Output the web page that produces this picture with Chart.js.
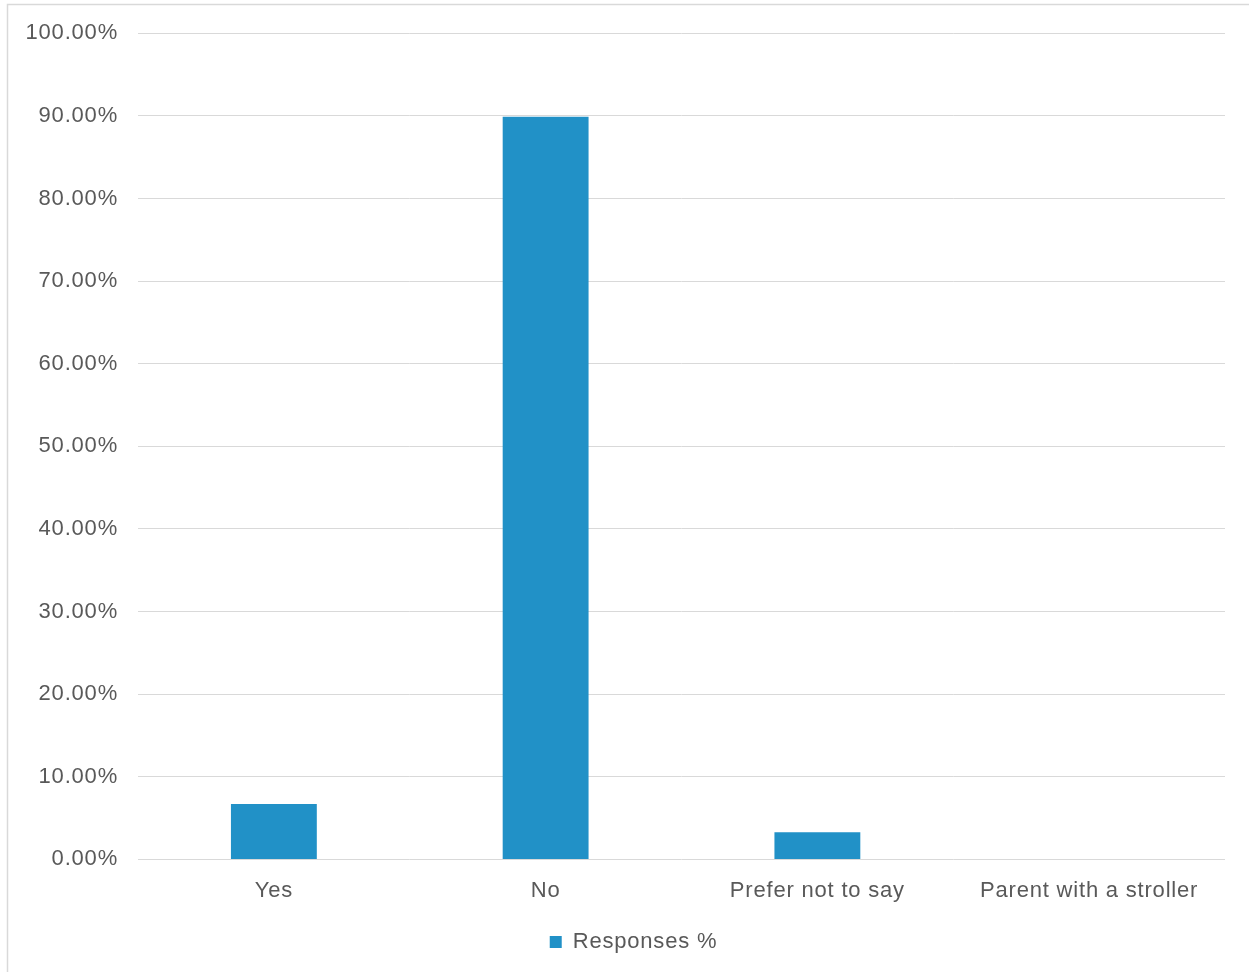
<!DOCTYPE html>
<html>
<head>
<meta charset="utf-8">
<script src="https://cdn.jsdelivr.net/npm/chart.js@4/dist/chart.umd.min.js"></script>
<style>
html,body{margin:0;padding:0;background:#fff;}
#wrap{width:1249px;height:972px;position:relative;}
</style>
</head>
<body>
<div id="wrap"><canvas id="c" width="1249" height="972"></canvas></div>
<script>
const categories = ['Yes', 'No', 'Prefer not to say', 'Parent with a stroller'];
const responses = [6.7, 89.9, 3.3, 0];
const seriesName = 'Responses %';
const yMin = 0, yMax = 100, yStep = 10;

const barColor = '#2191c7';
const textColor = '#595959';
const gridColor = '#d9d9d9';
const FONT = "'Liberation Sans', Arial, sans-serif";

const framePlugin = {
  id: 'frame',
  beforeUpdate(chart) { chart.ctx.letterSpacing = '0.8px'; },
  afterLayout(chart) {
    if (chart.legend) { chart.legend.left += 21; chart.legend.right += 21; }
  },
  beforeDraw(chart) {
    const ctx = chart.ctx;
    ctx.save();
    ctx.fillStyle = '#ffffff';
    ctx.fillRect(0, 0, chart.width, chart.height);
    ctx.strokeStyle = '#d9d9d9';
    ctx.lineWidth = 1.5;
    ctx.strokeRect(7.5, 4.5, 1300, 1100);
    ctx.restore();
    ctx.letterSpacing = '0.8px';
  }
};

new Chart(document.getElementById('c'), {
  type: 'bar',
  data: {
    labels: categories,
    datasets: [{
      label: seriesName,
      data: responses,
      backgroundColor: barColor,
      borderWidth: 0,
      categoryPercentage: 1,
      barPercentage: 0.316
    }]
  },
  options: {
    responsive: false,
    animation: false,
    devicePixelRatio: 1,
    layout: { padding: { top: 33, right: 24, bottom: 9, left: 0 } },
    plugins: {
      legend: {
        position: 'bottom',
        labels: {
          font: { family: FONT, size: 22 },
          color: textColor,
          boxWidth: 12,
          boxHeight: 12,
          padding: 10
        }
      },
      tooltip: { enabled: false }
    },
    scales: {
      x: {
        grid: { display: false, drawTicks: false },
        border: { display: false },
        ticks: { font: { family: FONT, size: 22 }, color: textColor, padding: 18, maxRotation: 0 },
        afterFit(s) { s.height = 61.6; }
      },
      y: {
        min: yMin, max: yMax,
        grid: { color: gridColor, lineWidth: 1, drawTicks: false },
        border: { display: false },
        ticks: {
          stepSize: yStep,
          font: { family: FONT, size: 22 },
          color: textColor,
          padding: 20,
          callback: v => v.toFixed(2) + '%'
        },
        afterFit(s) { s.width = 138; }
      }
    }
  },
  plugins: [framePlugin]
});
</script>
</body>
</html>
